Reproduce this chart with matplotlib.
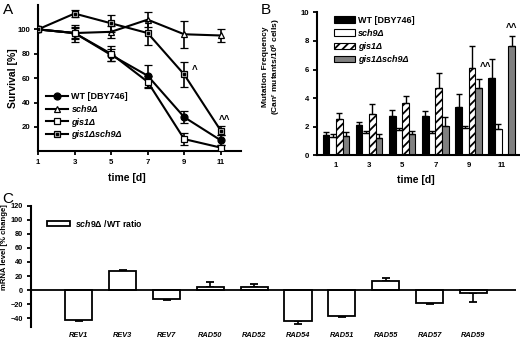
import numpy as np
import matplotlib
matplotlib.use("Agg")
import matplotlib.pyplot as plt
from matplotlib.legend_handler import HandlerTuple

plt.rcParams['font.family'] = ['Liberation Sans', 'DejaVu Sans']
plt.rcParams['font.weight'] = 'bold'
plt.rcParams['axes.labelweight'] = 'bold'
plt.rcParams['mathtext.fontset'] = 'custom'
plt.rcParams['mathtext.rm'] = 'Liberation Sans:bold'
plt.rcParams['mathtext.it'] = 'Liberation Sans:italic:bold'
plt.rcParams['mathtext.bf'] = 'Liberation Sans:bold'
plt.rcParams['hatch.linewidth'] = 1.3

# ---- panel A: survival ----
days = [1, 3, 5, 7, 9, 11]
surv_wt = [100, 97, 79, 62, 28, 9]
surv_wt_err = [0, 7, 5, 9, 5, 4]
surv_sch9 = [100, 97, 98, 108, 96, 95]
surv_sch9_err = [0, 5, 5, 6, 11, 5]
surv_gis1 = [100, 97, 80, 57, 10, 3]
surv_gis1_err = [0, 4, 6, 5, 5, 2]
surv_gs = [100, 113, 105, 97, 63, 17]
surv_gs_err = [0, 3, 7, 10, 10, 4]

# ---- panel B: mutation frequency ----
groups = ['1', '3', '5', '7', '9', '11']
mut_wt = [1.45, 2.12, 2.75, 2.75, 3.4, 5.43]
mut_wt_err = [0.2, 0.2, 0.42, 0.35, 0.87, 1.3]
mut_sch9 = [1.3, 1.54, 1.75, 1.58, 1.89, 1.82]
mut_sch9_err = [0.22, 0.17, 0.17, 0.1, 0.16, 0.37]
mut_gis1 = [2.54, 2.89, 3.63, 4.68, 6.08, np.nan]
mut_gis1_err = [0.4, 0.68, 0.52, 1.1, 1.56, np.nan]
mut_gs = [1.35, 1.23, 1.47, 2.05, 4.73, 7.66]
mut_gs_err = [0.3, 0.24, 0.23, 0.61, 0.61, 0.68]

# ---- panel C: mRNA ----
genes = ['REV1', 'REV3', 'REV7', 'RAD50', 'RAD52', 'RAD54', 'RAD51', 'RAD55', 'RAD57', 'RAD59']
mrna = [-42, 27.5, -12.5, 4, 5, -44.5, -36.5, 13.5, -18.5, -3.5]
mrna_err = [1.5, 1.5, 1.5, 7, 3.5, 4, 1.5, 4.3, 1.5, 14]

fig = plt.figure(figsize=(5.2, 3.39), dpi=100)


def style(ax, fs):
    for s in ['top', 'right']:
        ax.spines[s].set_visible(False)
    for s in ['left', 'bottom']:
        ax.spines[s].set_linewidth(1.5)
    ax.tick_params(direction='out', width=1.3, length=3, labelsize=fs, pad=2.5)


# ===== A =====
axA = fig.add_axes([0.0731, 0.5538, 0.39, 0.4314])
style(axA, 5.6)
kw = dict(color='black', lw=1.5, elinewidth=1.2, capsize=3, capthick=1.2, markersize=5,
          markeredgecolor='black', markeredgewidth=0.9)
hwt = axA.errorbar(days, surv_wt, yerr=surv_wt_err, marker='o', markerfacecolor='black', zorder=4, **kw)
hsch = axA.errorbar(days, surv_sch9, yerr=surv_sch9_err, marker='^', markerfacecolor='white', zorder=3, **kw)
hgis = axA.errorbar(days, surv_gis1, yerr=surv_gis1_err, marker='s', markerfacecolor='white', zorder=4, **kw)
hgs = axA.errorbar(days, surv_gs, yerr=surv_gs_err, marker='s', markerfacecolor='#c8c8c8', zorder=5, **kw)
dot, = axA.plot(days, surv_gs, ls='none', marker='s', markersize=1.6, color='black', zorder=6)
axA.set_xlim(1, 12.1)
axA.set_ylim(0, 120)
axA.set_xticks(days)
axA.set_yticks([20, 40, 60, 80, 100])
axA.set_xlabel('time [d]', fontsize=7.5)
axA.set_ylabel('Survival [%]', fontsize=7.5)
axA.xaxis.set_label_coords(0.44, -0.15)
axA.yaxis.set_label_coords(-0.1, 0.5)
axA.text(9.4, 67, '^', fontsize=7, ha='left', va='center')
axA.text(11.2, 26, '^^', fontsize=7, ha='center', va='center')
legA = axA.legend([hwt[0], hsch[0], hgis[0], (hgs[0], dot)],
                  ['WT [DBY746]', 'sch9Δ', 'gis1Δ', 'gis1Δsch9Δ'],
                  handler_map={tuple: HandlerTuple(ndivide=1, pad=0)},
                  loc='upper left', bbox_to_anchor=(0.04, 0.405), frameon=False,
                  fontsize=6.5, handlelength=2.4, handletextpad=0.4, labelspacing=0.42,
                  borderpad=0, borderaxespad=0)
for t in legA.get_texts()[1:]:
    t.set_style('italic')
fig.text(0.005, 0.99, 'A', fontsize=11, fontweight='normal', va='top')

# ===== B =====
axB = fig.add_axes([0.609, 0.5419, 0.389, 0.4218])
style(axB, 5.6)
x = np.arange(len(groups))
w = 0.2
ekw = dict(ecolor='black', elinewidth=1.0, capsize=2.5, capthick=1.0)
axB.bar(x - 1.5 * w, mut_wt, w, color='black', edgecolor='black', lw=0.8, label='WT [DBY746]')
axB.bar(x - 0.5 * w, mut_sch9, w, color='white', edgecolor='black', lw=0.8, label='sch9Δ')
axB.bar(x + 0.5 * w, mut_gis1, w, color='white', edgecolor='black', lw=0.8, hatch='////', label='gis1Δ')
axB.bar(x + 1.5 * w, mut_gs, w, color='#808080', edgecolor='black', lw=0.8, label='gis1Δsch9Δ')
axB.errorbar(x - 1.5 * w, mut_wt, yerr=[np.zeros(6), mut_wt_err], fmt='none', **ekw)
axB.errorbar(x - 0.5 * w, mut_sch9, yerr=[np.zeros(6), mut_sch9_err], fmt='none', **ekw)
axB.errorbar(x + 0.5 * w, mut_gis1, yerr=[np.zeros(6), mut_gis1_err], fmt='none', **ekw)
axB.errorbar(x + 1.5 * w, mut_gs, yerr=[np.zeros(6), mut_gs_err], fmt='none', **ekw)
axB.set_xlim(-0.58, 5.52)
axB.set_ylim(0, 10)
axB.set_xticks(x)
axB.set_xticklabels(groups)
axB.tick_params(axis='x', length=0, pad=5)
axB.set_yticks([0, 2, 4, 6, 8, 10])
axB.set_xlabel('time [d]', fontsize=7.5)
axB.set_ylabel('Mutation Frequency\n(Can$^{\\rm r}$ mutants/10$^{6}$ cells)', fontsize=6.0, linespacing=1.15)
axB.xaxis.set_label_coords(0.49, -0.14)
axB.yaxis.set_label_coords(-0.165, 0.62)
axB.text(4 + 1.5 * w + 0.05, 6.2, '^^', fontsize=7, ha='left', va='center')
axB.text(5 + 1.5 * w, 8.9, '^^', fontsize=7, ha='center', va='center')
legB = axB.legend(loc='upper left', bbox_to_anchor=(0.085, 0.975), frameon=False, fontsize=6.5,
                  handlelength=2.3, handleheight=0.75, handletextpad=0.4, labelspacing=0.45,
                  borderpad=0, borderaxespad=0)
for t in legB.get_texts()[1:]:
    t.set_style('italic')
fig.text(0.502, 0.99, 'B', fontsize=11, fontweight='normal', va='top')

# ===== C =====
axC = fig.add_axes([0.059, 0.0363, 0.934, 0.357])
style(axC, 5.3)
axC.spines['bottom'].set_visible(False)
xc = np.arange(len(genes))
axC.bar(xc, mrna, 0.62, color='white', edgecolor='black', lw=1.3,
        label='$\\mathit{sch9Δ}$ /WT ratio', zorder=3)
lo = [e if v < 0 else 0 for v, e in zip(mrna, mrna_err)]
hi = [e if v >= 0 else 0 for v, e in zip(mrna, mrna_err)]
axC.errorbar(xc, mrna, yerr=[lo, hi], fmt='none', ecolor='black', elinewidth=1.2,
             capsize=3, capthick=1.3, zorder=2)
axC.axhline(0, color='black', lw=1.3, zorder=4)
axC.set_xlim(-1.1, 9.98)
axC.set_ylim(-52, 120)
axC.set_yticks(np.arange(-40, 121, 20))
axC.set_xticks(xc)
axC.set_xticklabels(genes, style='italic')
axC.tick_params(axis='x', length=0, pad=4)
axC.set_ylabel('mRNA level [% change]', fontsize=5.6)
axC.yaxis.set_label_coords(-0.046, 0.66)
axC.legend(loc='upper left', bbox_to_anchor=(0.033, 0.9), frameon=False, fontsize=6.3,
           handlelength=2.7, handleheight=0.55, handletextpad=0.5, borderpad=0, borderaxespad=0)
fig.text(0.005, 0.435, 'C', fontsize=11, fontweight='normal', va='top')

fig.savefig('out.png', dpi=100)
